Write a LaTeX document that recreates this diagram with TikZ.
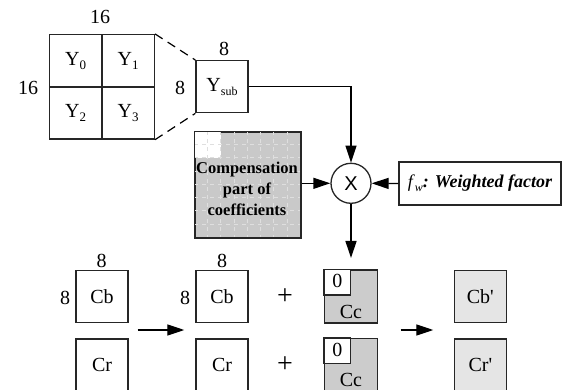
\documentclass[tikz,border=0pt]{standalone}
\usepackage{fontspec}
\setmainfont{Liberation Serif}
\newfontfamily\xfont{Liberation Sans}
\usetikzlibrary{arrows.meta,calc}

\newcommand{\lowsub}[2][13]{\raisebox{-4pt}{\fontsize{#1}{#1}\selectfont #2}}

\begin{document}
\begin{tikzpicture}[
    x=1pt, y=-1pt,
    >={Triangle[length=17pt,width=11pt]},
    font=\fontsize{20}{24}\selectfont,
    blk/.style={
        draw=black!85,
        line width=1.3pt,
        minimum size=52pt,
        inner sep=0pt
    },
    cell/.style={
        blk,
        minimum size=52.5pt
    },
    ccbox/.style={
        blk,
        minimum size=53pt,
        fill=gray!40
    },
    outbox/.style={
        blk,
        fill=gray!20
    },
    compbox/.style={
        draw=black!85,
        line width=1.3pt,
        minimum size=106pt,
        inner sep=0pt,
        fill=gray!42
    },
    dim/.style={inner sep=0pt},
    arr/.style={->, line width=1.3pt},
    zoomline/.style={line width=1.2pt, dash pattern=on 9pt off 6pt}
]
\useasboundingbox (0,0) rectangle (573,390);

% luminance block split into four sub-blocks
\node[cell] (Y0) at (75.6,60.8)  {Y\lowsub{0}};
\node[cell] (Y1) at (128.1,60.8) {Y\lowsub{1}};
\node[cell] (Y2) at (75.6,112.8) {Y\lowsub{2}};
\node[cell] (Y3) at (128.1,112.8){Y\lowsub{3}};
\node[dim] (n16a) at (100,17) {16};
\node[dim] (n16b) at (28,88)  {16};

\node[blk] (Ysub) at (222,86.7) {Y\lowsub[12]{sub}};
\node[dim] (n8a) at (224,49) {8};
\node[dim] (n8b) at (180,88) {8};

\draw[zoomline] (Y1.north east) -- (Ysub.north west);
\draw[zoomline] (Y3.south east) -- (Ysub.south west);

% multiplier
\node[draw=black!85, line width=1.3pt, circle, minimum size=40pt, inner sep=0pt,
      font=\xfont\fontsize{20}{24}\selectfont] (mult) at (351,183.3) {X};

% compensation coefficients
\node[compbox] (comp) at (248,185) {};
\fill[white] (comp.north west) rectangle ++(26.5,26.5);
\foreach \k in {1,...,7}{
    \draw[gray!25, line width=0.8pt, dash pattern=on 4pt off 4pt]
        ($(comp.north west)+(\k*13.25,0)$) -- ++(0,106);
    \draw[gray!25, line width=0.8pt, dash pattern=on 4pt off 4pt]
        ($(comp.north west)+(0,\k*13.25)$) -- ++(106,0);
}
\draw[draw=black!85, line width=1.3pt] (comp.north west) rectangle (comp.south east);
\node[align=center, inner sep=0pt, font=\bfseries\fontsize{16.5}{21}\selectfont]
    (comptxt) at (247,189) {Compensation\\part of\\coefficients};

\node[draw=black!85, line width=1.3pt, minimum width=162pt, minimum height=43pt,
      inner sep=0pt, font=\fontsize{18}{22}\selectfont] (wf) at (480,183.5)
    {\textit{f}\lowsub[12]{\itshape w}\textbf{\textit{: Weighted factor}}};

\draw[arr] (Ysub.east) -| (mult.north);
\draw[arr] (comp.east |- mult.west) -- (mult.west);
\draw[arr] (wf.west) -- (mult.east);
\coordinate (dn) at (351,258);
\draw[arr] (mult.south) -- (dn);

% chrominance blocks
\node[blk] (Cb1) at (102,296.5) {Cb};
\node[blk] (Cr1) at (102,365)   {Cr};
\node[dim] (n8c) at (101.7,260.7) {8};
\node[dim] (n8d) at (65,298)      {8};

\node[blk] (Cb2) at (222,296.5) {Cb};
\node[blk] (Cr2) at (222,365)   {Cr};
\node[dim] (n8e) at (222,261) {8};
\node[dim] (n8f) at (185,298) {8};

\node[dim, font=\fontsize{28}{30}\selectfont] (plus1) at (285,297) {+};
\node[dim, font=\fontsize{28}{30}\selectfont] (plus2) at (285,365) {+};

\node[ccbox] (Cc1) at (351,296.5) {};
\draw[draw=black!85, line width=1.3pt, fill=white] (Cc1.north west) rectangle ++(26.5,25.5);
\node[dim] (z1) at ($(Cc1.north west)+(13.5,12)$) {0};
\node[dim] (c1) at ($(Cc1.center)+(0,15)$) {Cc};

\node[ccbox] (Cc2) at (351,365) {};
\draw[draw=black!85, line width=1.3pt, fill=white] (Cc2.north west) rectangle ++(26.5,25.5);
\node[dim] (z2) at ($(Cc2.north west)+(13.5,12)$) {0};
\node[dim] (c2) at ($(Cc2.center)+(0,15)$) {Cc};

\node[outbox] (Cbp) at (480.3,296.5) {Cb\textquotesingle};
\node[outbox] (Crp) at (480.3,365)   {Cr\textquotesingle};

\coordinate (a1) at (137.7,330);
\coordinate (b1) at (184.3,330);
\coordinate (a2) at (400.7,330);
\coordinate (b2) at (433.3,330);
\draw[arr] (a1) -- (b1);
\draw[arr] (a2) -- (b2);

\end{tikzpicture}
\end{document}
